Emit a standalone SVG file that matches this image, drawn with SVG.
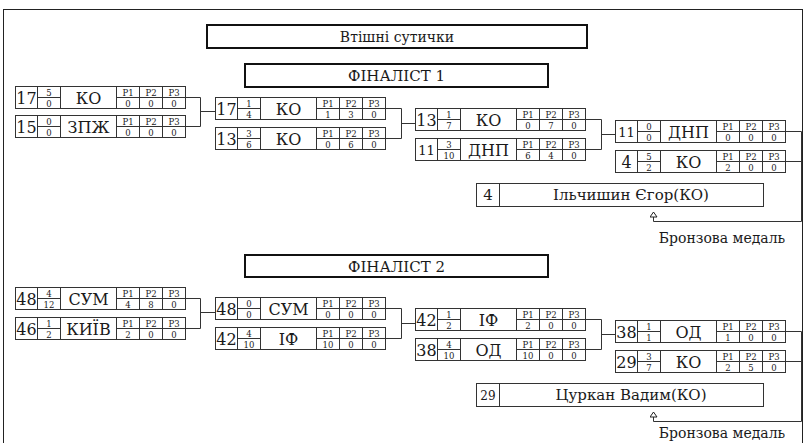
<svg xmlns="http://www.w3.org/2000/svg" width="806" height="443" viewBox="0 0 806 443" font-family="'DejaVu Serif', serif">
<style>
text{font-family:"DejaVu Serif","Liberation Serif",serif;fill:#1a1a1a;text-anchor:middle}
.box{fill:#fff;stroke:#333;stroke-width:1}
.ln{stroke:#333;stroke-width:1;fill:none}
.thick{fill:#fff;stroke:#111;stroke-width:2}
.seed{font-size:16px}
.sm{font-size:8.5px}
.nm{font-size:16px}
.ttl{font-size:15px}
.wn{font-size:15px}
.br{font-size:14px}
</style>
<defs>
<g id="cells">
<rect class="box" x="0.5" y="0.5" width="170" height="22"/>
<path class="ln" d="M22.5 0.5V22.5M45.5 0.5V22.5M101.5 0.5V22.5M124.5 0.5V22.5M147.5 0.5V22.5M22.5 11.5H45.5M101.5 11.5H170.5"/>
<text class="sm" x="113" y="9.5">P1</text>
<text class="sm" x="136" y="9.5">P2</text>
<text class="sm" x="159" y="9.5">P3</text>
</g>
<marker id="arr" viewBox="0 0 6 8" refX="5.5" refY="4" markerWidth="6" markerHeight="8" orient="auto" markerUnits="userSpaceOnUse">
<path d="M0.5 0.5L5.5 4L0.5 7.5Z" fill="#fff" stroke="#222" stroke-width="1"/>
</marker>
</defs>

<rect x="3.5" y="9.5" width="799" height="445" fill="#fff" stroke="#222" stroke-width="1"/>

<g id="title">
<rect class="thick" x="207" y="25" width="380" height="23"/>
<text class="ttl" x="397" y="42" style="font-size:14px">Втішні сутички</text>
</g>
<g id="finalist1">
<rect class="thick" x="245" y="64" width="303" height="23"/>
<text class="ttl" x="396.5" y="81">ФІНАЛІСТ 1</text>
</g>
<g id="finalist2">
<rect class="thick" x="245" y="255" width="303" height="22"/>
<text class="ttl" x="396.5" y="271.5">ФІНАЛІСТ 2</text>
</g>

<g id="connectors">
<path class="ln" d="M185 97.5H200.5V126.5H185M200.5 111.5H215"/>
<path class="ln" d="M385 108.5H401.5V138.5H385M401.5 123.5H415"/>
<path class="ln" d="M585 119.5H601.5V149.5H585M601.5 134.5H615"/>
<path class="ln" d="M785 161.5H801.5"/>
<path class="ln" d="M785 131.5H801.5V221.5H653.5V212" marker-end="url(#arr)"/>
<path class="ln" d="M185 298.5H200.5V328.5H185M200.5 312.5H215"/>
<path class="ln" d="M385 308.5H401.5V338.5H385M401.5 323.5H415"/>
<path class="ln" d="M585 319.5H601.5V349.5H585M601.5 334.5H615"/>
<path class="ln" d="M785 361.5H801.5"/>
<path class="ln" d="M785 331.5H801.5V421.5H653.5V412" marker-end="url(#arr)"/>
</g>

<g id="m1a" transform="translate(15,86)"><use href="#cells"/><text class="seed" x="11.5" y="17.5">17</text><text class="sm" x="34" y="9.5">5</text><text class="sm" x="34" y="20.5">0</text><text class="nm" x="73.5" y="17.5">КО</text><text class="sm" x="113" y="20.5">0</text><text class="sm" x="136" y="20.5">0</text><text class="sm" x="159" y="20.5">0</text></g>
<g id="m1b" transform="translate(15,115)"><use href="#cells"/><text class="seed" x="11.5" y="17.5">15</text><text class="sm" x="34" y="9.5">0</text><text class="sm" x="34" y="20.5">0</text><text class="nm" x="73.5" y="17.5">ЗПЖ</text><text class="sm" x="113" y="20.5">0</text><text class="sm" x="136" y="20.5">0</text><text class="sm" x="159" y="20.5">0</text></g>
<g id="m2a" transform="translate(215,97)"><use href="#cells"/><text class="seed" x="11.5" y="17.5">17</text><text class="sm" x="34" y="9.5">1</text><text class="sm" x="34" y="20.5">4</text><text class="nm" x="73.5" y="17.5">КО</text><text class="sm" x="113" y="20.5">1</text><text class="sm" x="136" y="20.5">3</text><text class="sm" x="159" y="20.5">0</text></g>
<g id="m2b" transform="translate(215,127)"><use href="#cells"/><text class="seed" x="11.5" y="17.5">13</text><text class="sm" x="34" y="9.5">3</text><text class="sm" x="34" y="20.5">6</text><text class="nm" x="73.5" y="17.5">КО</text><text class="sm" x="113" y="20.5">0</text><text class="sm" x="136" y="20.5">6</text><text class="sm" x="159" y="20.5">0</text></g>
<g id="m3a" transform="translate(415,108)"><use href="#cells"/><text class="seed" x="11.5" y="17.5">13</text><text class="sm" x="34" y="9.5">1</text><text class="sm" x="34" y="20.5">7</text><text class="nm" x="73.5" y="17.5">КО</text><text class="sm" x="113" y="20.5">0</text><text class="sm" x="136" y="20.5">7</text><text class="sm" x="159" y="20.5">0</text></g>
<g id="m3b" transform="translate(415,138)"><use href="#cells"/><text class="seed" x="11.5" y="17" style="font-size:13px">11</text><text class="sm" x="34" y="9.5">3</text><text class="sm" x="34" y="20.5">10</text><text class="nm" x="73.5" y="17.5">ДНП</text><text class="sm" x="113" y="20.5">6</text><text class="sm" x="136" y="20.5">4</text><text class="sm" x="159" y="20.5">0</text></g>
<g id="m4a" transform="translate(615,120)"><use href="#cells"/><text class="seed" x="11.5" y="17" style="font-size:13px">11</text><text class="sm" x="34" y="9.5">0</text><text class="sm" x="34" y="20.5">0</text><text class="nm" x="73.5" y="17.5">ДНП</text><text class="sm" x="113" y="20.5">0</text><text class="sm" x="136" y="20.5">0</text><text class="sm" x="159" y="20.5">0</text></g>
<g id="m4b" transform="translate(615,150)"><use href="#cells"/><text class="seed" x="11.5" y="17.5">4</text><text class="sm" x="34" y="9.5">5</text><text class="sm" x="34" y="20.5">2</text><text class="nm" x="73.5" y="17.5">КО</text><text class="sm" x="113" y="20.5">2</text><text class="sm" x="136" y="20.5">0</text><text class="sm" x="159" y="20.5">0</text></g>
<g id="winner1">
<rect class="box" x="476.5" y="183.5" width="287" height="23"/>
<path class="ln" d="M499.5 183.5V206.5"/>
<text class="wn" x="488" y="200">4</text>
<text class="wn" x="631" y="200">Ільчишин Єгор(КО)</text>
</g>
<g id="bronze1"><text class="br" x="722" y="243">Бронзова медаль</text></g>

<g id="n1a" transform="translate(15,287)"><use href="#cells"/><text class="seed" x="11.5" y="17.5">48</text><text class="sm" x="34" y="9.5">4</text><text class="sm" x="34" y="20.5">12</text><text class="nm" x="73.5" y="17.5">СУМ</text><text class="sm" x="113" y="20.5">4</text><text class="sm" x="136" y="20.5">8</text><text class="sm" x="159" y="20.5">0</text></g>
<g id="n1b" transform="translate(15,317)"><use href="#cells"/><text class="seed" x="11.5" y="17.5">46</text><text class="sm" x="34" y="9.5">1</text><text class="sm" x="34" y="20.5">2</text><text class="nm" x="73.5" y="17.5">КИЇВ</text><text class="sm" x="113" y="20.5">2</text><text class="sm" x="136" y="20.5">0</text><text class="sm" x="159" y="20.5">0</text></g>
<g id="n2a" transform="translate(215,297)"><use href="#cells"/><text class="seed" x="11.5" y="17.5">48</text><text class="sm" x="34" y="9.5">0</text><text class="sm" x="34" y="20.5">0</text><text class="nm" x="73.5" y="17.5">СУМ</text><text class="sm" x="113" y="20.5">0</text><text class="sm" x="136" y="20.5">0</text><text class="sm" x="159" y="20.5">0</text></g>
<g id="n2b" transform="translate(215,327)"><use href="#cells"/><text class="seed" x="11.5" y="17.5">42</text><text class="sm" x="34" y="9.5">4</text><text class="sm" x="34" y="20.5">10</text><text class="nm" x="73.5" y="17.5">ІФ</text><text class="sm" x="113" y="20.5">10</text><text class="sm" x="136" y="20.5">0</text><text class="sm" x="159" y="20.5">0</text></g>
<g id="n3a" transform="translate(415,308)"><use href="#cells"/><text class="seed" x="11.5" y="17.5">42</text><text class="sm" x="34" y="9.5">1</text><text class="sm" x="34" y="20.5">2</text><text class="nm" x="73.5" y="17.5">ІФ</text><text class="sm" x="113" y="20.5">2</text><text class="sm" x="136" y="20.5">0</text><text class="sm" x="159" y="20.5">0</text></g>
<g id="n3b" transform="translate(415,338)"><use href="#cells"/><text class="seed" x="11.5" y="17.5">38</text><text class="sm" x="34" y="9.5">4</text><text class="sm" x="34" y="20.5">10</text><text class="nm" x="73.5" y="17.5">ОД</text><text class="sm" x="113" y="20.5">10</text><text class="sm" x="136" y="20.5">0</text><text class="sm" x="159" y="20.5">0</text></g>
<g id="n4a" transform="translate(615,320)"><use href="#cells"/><text class="seed" x="11.5" y="17.5">38</text><text class="sm" x="34" y="9.5">1</text><text class="sm" x="34" y="20.5">1</text><text class="nm" x="73.5" y="17.5">ОД</text><text class="sm" x="113" y="20.5">1</text><text class="sm" x="136" y="20.5">0</text><text class="sm" x="159" y="20.5">0</text></g>
<g id="n4b" transform="translate(615,350)"><use href="#cells"/><text class="seed" x="11.5" y="17.5">29</text><text class="sm" x="34" y="9.5">3</text><text class="sm" x="34" y="20.5">7</text><text class="nm" x="73.5" y="17.5">КО</text><text class="sm" x="113" y="20.5">2</text><text class="sm" x="136" y="20.5">5</text><text class="sm" x="159" y="20.5">0</text></g>
<g id="winner2">
<rect class="box" x="476.5" y="383.5" width="287" height="23"/>
<path class="ln" d="M499.5 383.5V406.5"/>
<text class="wn" x="488" y="400" style="font-size:12px">29</text>
<text class="wn" x="631" y="400">Цуркан Вадим(КО)</text>
</g>
<g id="bronze2"><text class="br" x="722" y="438">Бронзова медаль</text></g>
</svg>
